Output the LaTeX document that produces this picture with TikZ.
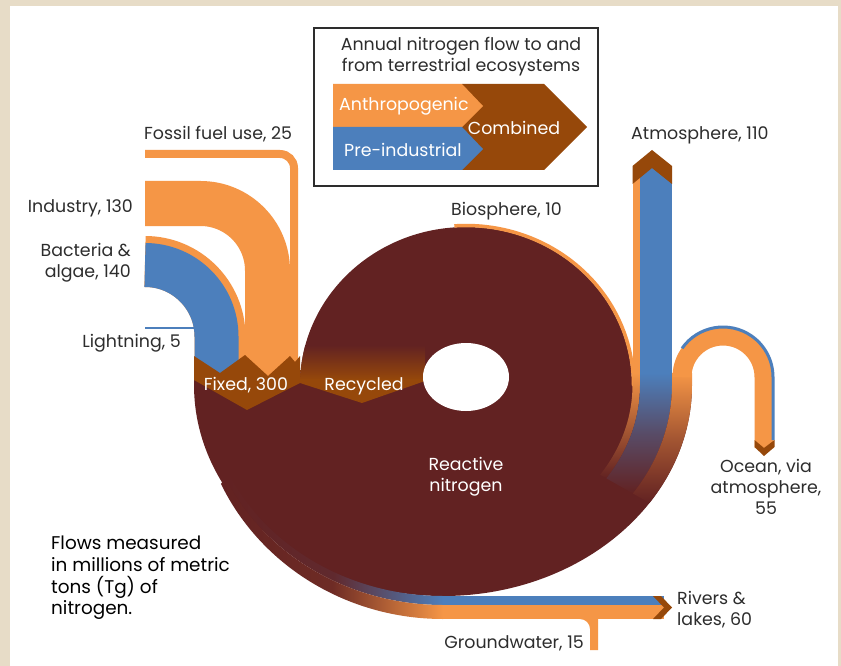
\documentclass[tikz,border=0pt]{standalone}
\usepackage{fontspec}
\setmainfont{Poppins}
\usepackage{tikz}

\definecolor{anthro}{RGB}{245,150,70}
\definecolor{preind}{RGB}{76,127,188}
\definecolor{combo}{RGB}{150,72,10}
\definecolor{reactive}{RGB}{98,34,34}
\definecolor{parchment}{RGB}{231,220,199}
\definecolor{ink}{RGB}{45,45,45}

\tikzset{
	lbl/.style={font=\fontsize{17.4}{21}\selectfont, text=ink, inner sep=0pt},
	wlbl/.style={lbl, text=white},
}

\begin{document}
\begin{tikzpicture}[x=1pt, y=-1pt]
	\useasboundingbox (0,0) rectangle (841,666);
	\fill[parchment] (0,0) rectangle (841,666);
	\fill[white] (10,6) rectangle (838,666);
	%%
	\fill[reactive] (194,370) -- (194,385) arc[start angle=180, end angle=0, x radius=249, y radius=211]
		-- (632,385) arc[start angle=360, end angle=180, x radius=166, y radius=158] -- (300,370) -- cycle;
	%%
	\draw[anthro, line width=8, rounded corners=14] (145,154) -| (294,380);
	\draw[anthro, line width=45, rounded corners=67] (145,203.5) -| (267.5,380);
	\draw[anthro, line width=51, rounded corners=75] (145,261.5) -| (220,380);
	\draw[preind, line width=44, rounded corners=71.5] (145,265) -| (216.5,380);
	\draw[preind, line width=2] (145,328) -- (196,328);
	%%
	\fill[combo] (194,356) -- (220,373) -- (245,355) -- (268,376) -- (290,356) -- (295,362) -- (300,356)
		-- (300,383) -- (247,410) -- (194,380) -- cycle;
	\begin{scope}
		\clip (300,385) arc[start angle=180, end angle=360, x radius=166, y radius=158] -- cycle;
		\shade[top color=reactive, bottom color=combo] (300,345) rectangle (425,380);
	\end{scope}
	\fill[combo] (300,379) -- (425,379) -- (425,381) -- (362,403) -- (300,383) -- cycle;
	\fill[white] (466,377) ellipse[x radius=43, y radius=34];
	%%
	\draw[anthro, line width=3.5] (466,385) ++(266:167.5 and 159.5) arc[start angle=266, end angle=360, x radius=167.5, y radius=159.5] -- (633.5,386);
	%%
	\fill[anthro] (632.5,168) rectangle (640,374);
	\fill[preind] (640,168) rectangle (672,374);
	\shade[top color=anthro, bottom color=reactive] (632.5,373) -- (632.5,385) arc[start angle=0, end angle=34, x radius=189.5, y radius=160.5]
		-- ++(34:7.5 and 6.4) arc[start angle=34, end angle=0, x radius=197, y radius=166.9] -- (640,373) -- cycle;
	\shade[top color=preind, bottom color=reactive, middle color=preind!45!reactive] (640,373) -- (640,385) arc[start angle=0, end angle=34, x radius=197, y radius=166.9]
		-- ++(34:32 and 27.1) arc[start angle=34, end angle=0, x radius=229, y radius=194] -- (672,373) -- cycle;
	\shade[top color=anthro, bottom color=reactive, middle color=anthro!45!reactive] (672,373) -- (672,385) arc[start angle=0, end angle=34, x radius=229, y radius=194]
		-- ++(34:20 and 17) arc[start angle=34, end angle=0, x radius=249, y radius=211] -- (692,373) -- cycle;
	\fill[combo] (632.5,184) -- (632.5,166) -- (652,150) -- (672,166) -- (672,184) -- (652,168) -- cycle;
	%%
	\draw[anthro, line width=19] (682,374) -- (682,377) arc[start angle=180, end angle=360, radius=41] -- (764,448);
	\draw[preind, line width=3] (723,377) ++(215:50) arc[start angle=215, end angle=360, radius=50] -- (773,440);
	\fill[combo] (754.5,440) -- (764,448) -- (774.5,440) -- (774.5,447) -- (764,456) -- (754.5,447) -- cycle;
	%%
	\shade[left color=reactive, right color=preind, middle color=reactive!92!preind] (443,596) arc[start angle=90, end angle=155, x radius=236, y radius=211]
		-- ++(155:4 and 9) arc[start angle=155, end angle=90, x radius=240, y radius=220] -- cycle;
	\shade[left color=reactive, right color=anthro, middle color=reactive!92!anthro] (443,605) arc[start angle=90, end angle=155, x radius=240, y radius=220]
		-- ++(155:5 and 14) arc[start angle=155, end angle=90, x radius=245, y radius=234] -- cycle;
	\fill[preind] (443,596) rectangle (664,605);
	\fill[anthro] (443,605) rectangle (664,619);
	\fill[combo] (653,596) -- (661,596) -- (672,607.5) -- (661,619) -- (653,619) -- (664,607.5) -- cycle;
	\fill[anthro] (570,612) -- (598,612) -- (598,650) -- (590,650) -- (590,629) arc[start angle=0, end angle=-90, radius=10] -- cycle;
	%%
	\draw[ink, line width=1.5] (314,28) rectangle (598,186);
	\fill[combo] (462,84) -- (544,84) -- (587,127) -- (544,170) -- (462,170) -- cycle;
	\fill[anthro] (333,84) -- (462,84) -- (483,106) -- (462,127) -- (333,127) -- cycle;
	\fill[preind] (333,127) -- (462,127) -- (483,149) -- (462,170) -- (333,170) -- cycle;
	\node[lbl, align=center] (legtitle) at (461,57) {Annual nitrogen flow to and\\from terrestrial ecosystems};
	\node[wlbl, anchor=west] (leganthro) at (339,106) {Anthropogenic};
	\node[wlbl, anchor=west] (legpre) at (344,150) {Pre-industrial};
	\node[wlbl] (legcombo) at (514,128) {Combined};
	%%
	\node[lbl, anchor=west] (fossil) at (144,134) {Fossil fuel use, 25};
	\node[lbl, anchor=east] (industry) at (133,208) {Industry, 130};
	\node[lbl, anchor=east, align=right] (bacteria) at (131,262.5) {Bacteria \&\\algae, 140};
	\node[lbl, anchor=east] (lightning) at (181,343) {Lightning, 5};
	\node[wlbl] (fixed) at (246,385) {Fixed, 300};
	\node[wlbl] (recycled) at (364,386) {Recycled};
	\node[wlbl, align=center] (reactlbl) at (466,477) {Reactive\\nitrogen};
	\node[lbl, anchor=west] (biosphere) at (451,211) {Biosphere, 10};
	\node[lbl, anchor=west] (atmos) at (631,135) {Atmosphere, 110};
	\node[lbl, align=center] (ocean) at (766,487) {Ocean, via\\atmosphere,\\55};
	\node[lbl, anchor=west, align=left] (rivers) at (677,610) {Rivers \&\\lakes, 60};
	\node[lbl, anchor=east] (ground) at (584,643) {Groundwater, 15};
	\node[lbl, anchor=west, align=left, text=black, font=\fontsize{18.4}{21.7}\selectfont] (note) at (51,578) {Flows measured\\in millions of metric\\tons (Tg) of\\nitrogen.};
\end{tikzpicture}
\end{document}
